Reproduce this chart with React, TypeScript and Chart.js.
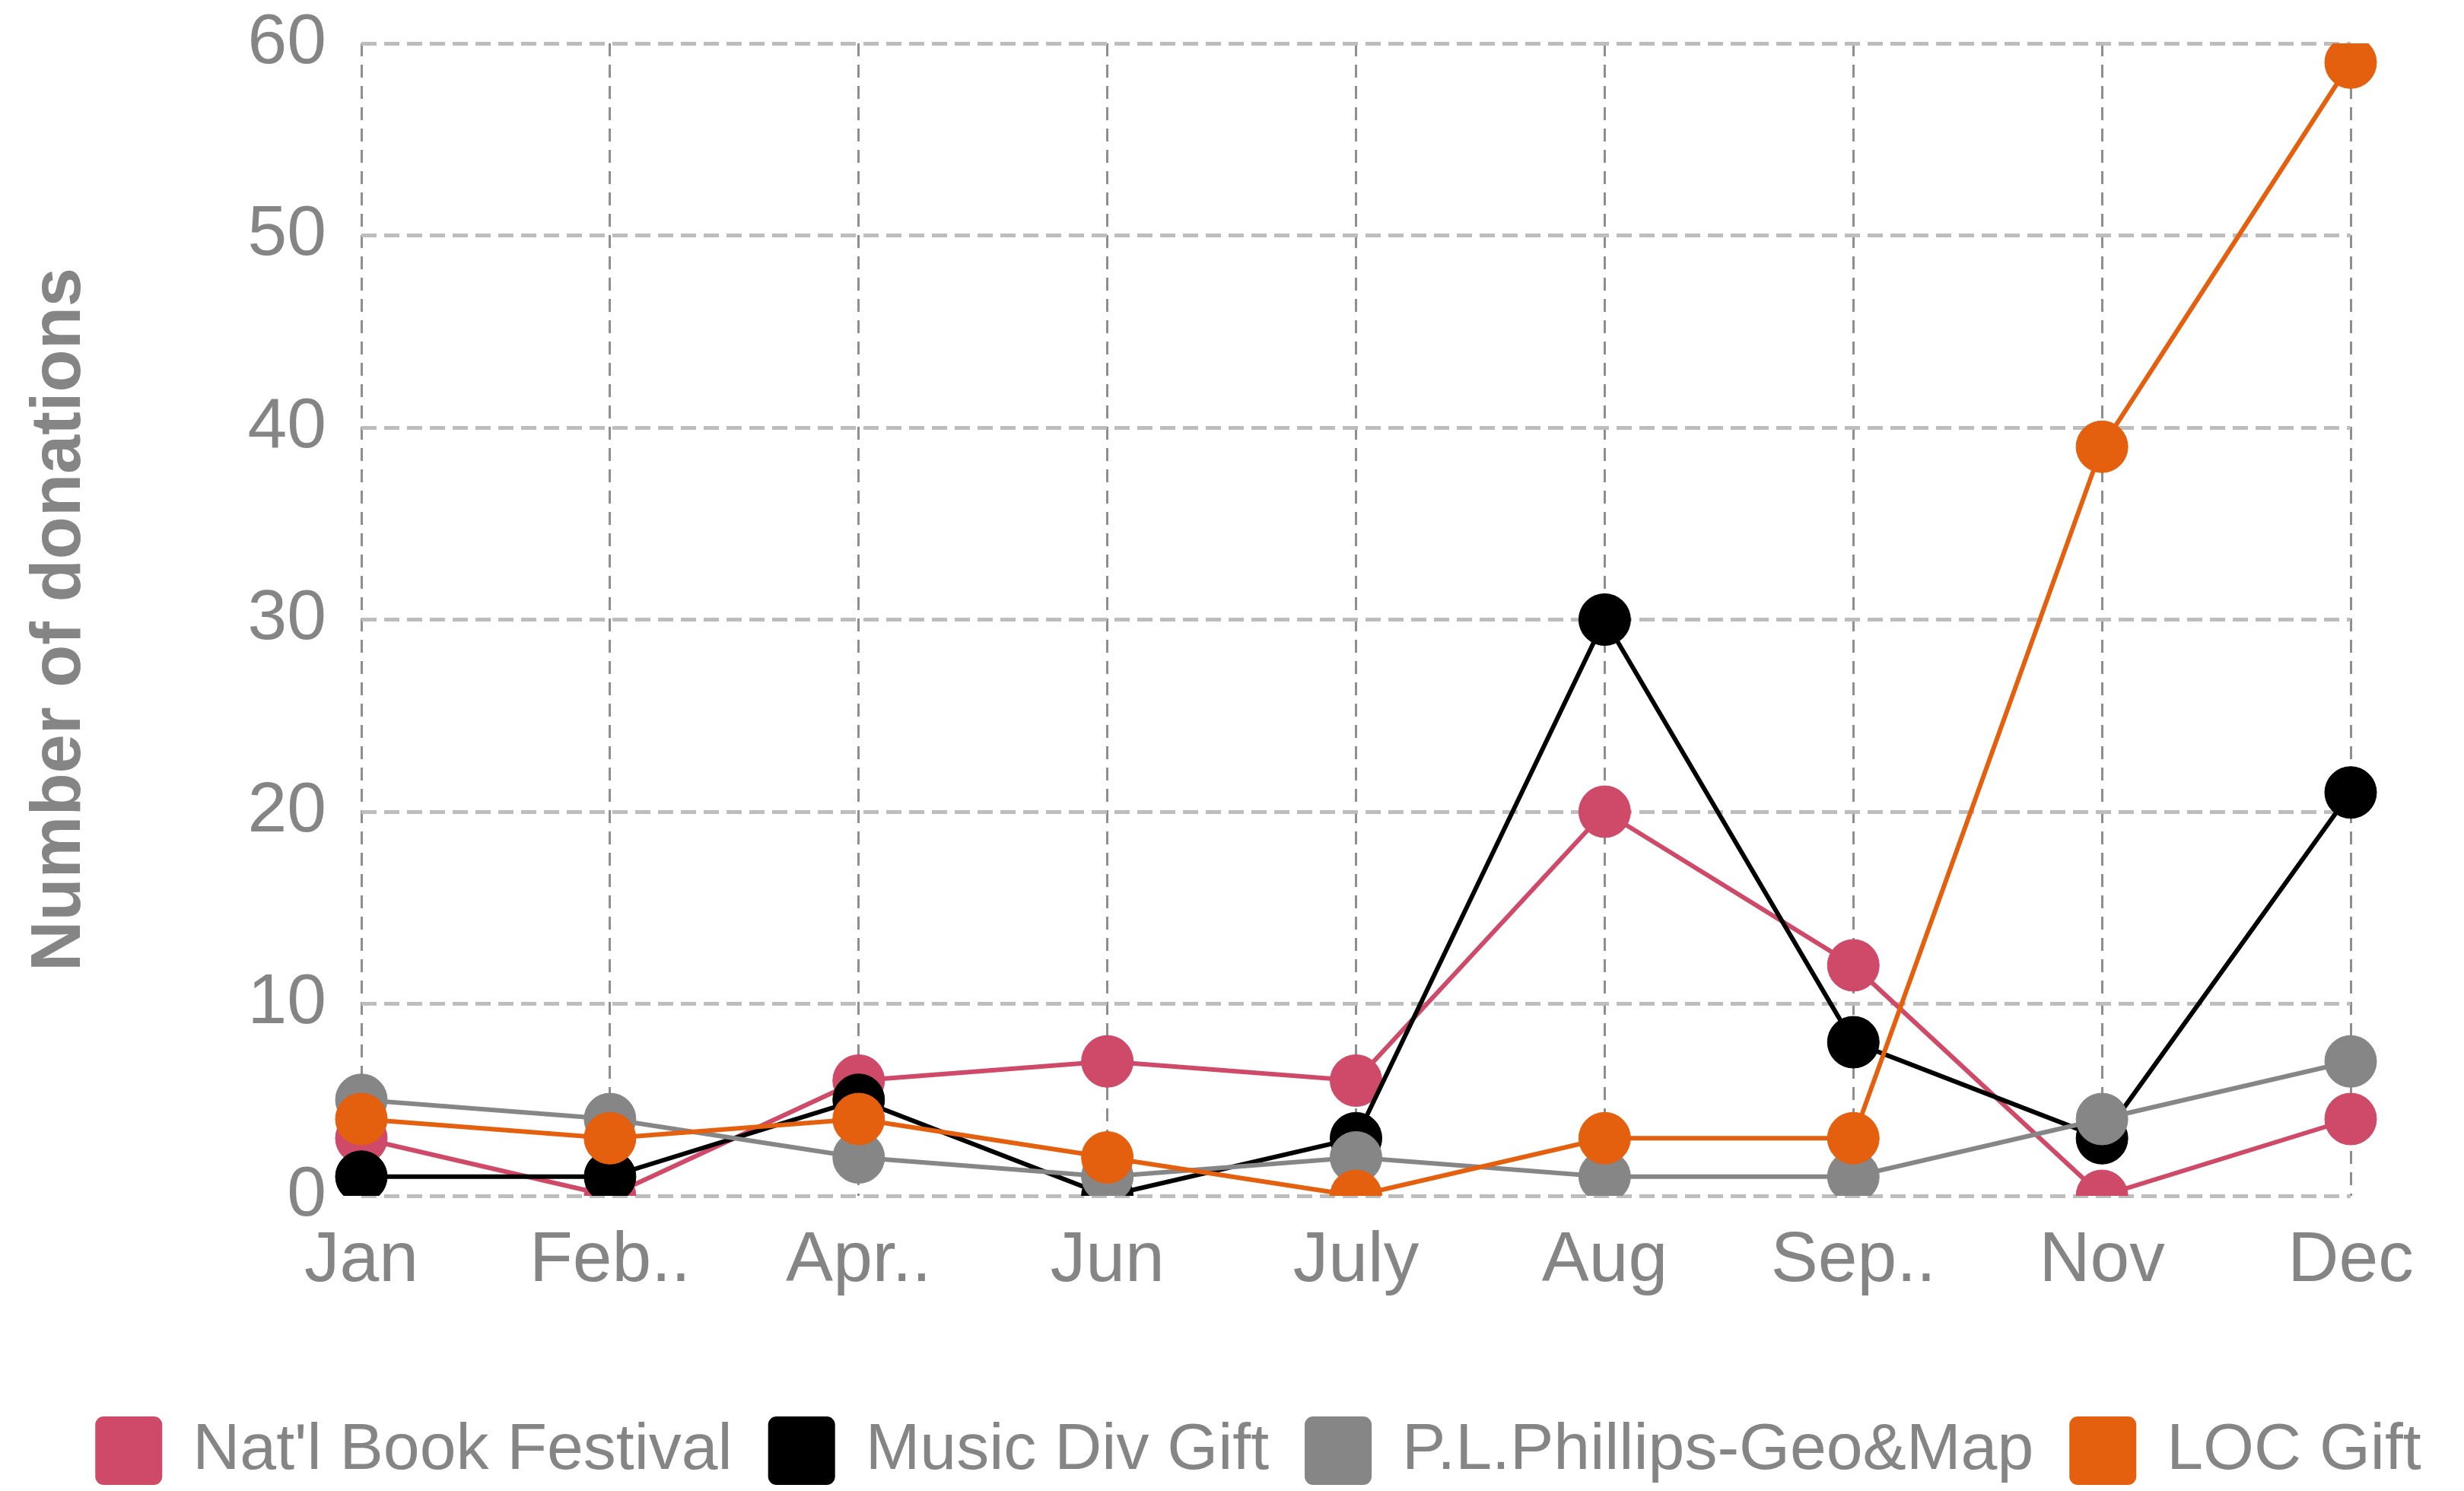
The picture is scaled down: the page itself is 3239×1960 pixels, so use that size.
import React, { useEffect, useRef } from "react";
import { Chart, registerables } from "chart.js";

Chart.register(...registerables);

const months = ["Jan", "Feb..", "Apr..", "Jun", "July", "Aug", "Sep..", "Nov", "Dec"];
const natlBookFestival = [3, 0, 6, 7, 6, 20, 12, 0, 4];
const musicDivGift = [1, 1, 5, 0, 3, 30, 8, 3, 21];
const plPhillipsGeoMap = [5, 4, 2, 1, 2, 1, 1, 4, 7];
const locGift = [4, 3, 4, 2, 0, 3, 3, 39, 59];

const seriesNames = ["Nat'l Book Festival", "Music Div Gift", "P.L.Phillips-Geo&Map", "LOC Gift"];
const seriesColors = ["#CE4A68", "#000000", "#868686", "#E4600E"];
const yTicks = [0, 10, 20, 30, 40, 50, 60];

const FONT = "'Liberation Sans', Arial, sans-serif";

export default function App() {
  const ref = useRef<HTMLCanvasElement | null>(null);

  useEffect(() => {
    if (!ref.current) return;
    const values = [natlBookFestival, musicDivGift, plPhillipsGeoMap, locGift];
    const shiftLegend = {
      id: "shiftLegend",
      afterLayout(chart: any) {
        const l = chart.legend;
        if (l) {
          l.left += 36;
          l.right += 36;
        }
      },
    };
    const chart = new Chart(ref.current, {
      type: "line",
      data: {
        labels: months,
        datasets: values.map((v, i) => ({
          label: seriesNames[i],
          data: v,
          borderColor: seriesColors[i],
          backgroundColor: seriesColors[i],
          pointBackgroundColor: seriesColors[i],
          pointBorderColor: seriesColors[i],
          pointRadius: 34,
          pointBorderWidth: 1,
          borderWidth: 6,
          tension: 0,
          fill: false,
          order: 3 - i,
        })),
      },
      options: {
        responsive: false,
        animation: false,
        layout: { padding: { top: 57, left: 0, right: 0, bottom: 0 } },
        scales: {
          x: {
            type: "category",
            offset: false,
            grid: { display: true, color: "#8E8E8E", lineWidth: 3, drawTicks: false },
            border: { display: false, dash: [17, 11] },
            ticks: {
              color: "#858585",
              font: { family: FONT, size: 93 },
              padding: 31,
              maxRotation: 0,
              autoSkip: false,
            },
            afterFit: (s: any) => {
              s.height = 242;
            },
          },
          y: {
            min: 0,
            max: 60,
            afterBuildTicks: (s: any) => {
              s.ticks = yTicks.map((v) => ({ value: v }));
            },
            grid: { display: true, color: "#BDBDBD", lineWidth: 5, drawTicks: false },
            border: { display: false, dash: [20, 10] },
            ticks: {
              color: "#858585",
              font: { family: FONT, size: 93 },
              padding: 46,
            },
            title: {
              display: true,
              text: "Number of donations",
              color: "#858585",
              font: { family: FONT, size: 92, weight: "bold", lineHeight: 1.2 },
              padding: { top: 24, bottom: 0 },
            },
            afterFit: (s: any) => {
              s.width = 475;
              s.paddingTop = 0;
              s.paddingBottom = 0;
            },
          },
          yR: {
            type: "linear",
            position: "right",
            display: true,
            grid: { display: false, drawTicks: false },
            border: { display: false },
            ticks: { display: false },
            afterFit: (s: any) => {
              s.width = 149;
              s.paddingTop = 0;
              s.paddingBottom = 0;
            },
          },
        },
        plugins: {
          legend: {
            display: true,
            position: "bottom",
            align: "center",
            labels: {
              boxWidth: 82,
              boxHeight: 84,
              padding: 50,
              color: "#858585",
              font: { family: FONT, size: 86 },
              useBorderRadius: true,
              borderRadius: 8,
              sort: (a: any, b: any) => a.datasetIndex - b.datasetIndex,
            },
          },
          tooltip: { enabled: false },
          title: { display: false },
        },
      },
      plugins: [shiftLegend],
    } as any);
    return () => chart.destroy();
  }, []);

  return (
    <div style={{ position: "absolute", left: 0, top: 0, width: 3239, height: 1960, background: "#fff" }}>
      <canvas ref={ref} width={3239} height={1960} style={{ display: "block" }} />
    </div>
  );
}
